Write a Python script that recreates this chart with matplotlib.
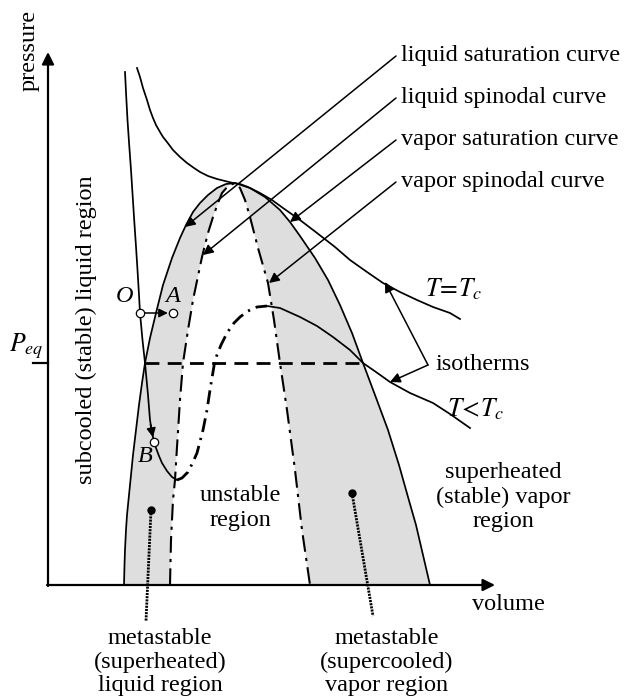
import matplotlib
matplotlib.use("Agg")
import matplotlib.pyplot as plt
import numpy as np

plt.rcParams['font.family'] = ['Liberation Serif', 'DejaVu Serif']
plt.rcParams['mathtext.fontset'] = 'stix'

# ---- curve data (schematic; x = volume-ish, y = pressure-ish in px) ----
dome_x = [124, 124.5, 125, 126, 127, 129, 131, 133, 136, 139, 142, 145, 150, 156, 163, 168, 172, 176, 180,
          186, 193, 200, 208, 217, 226, 235,
          250, 265, 280, 290, 300, 315, 328, 340, 352, 363, 375, 388, 399, 408, 416, 423, 430]
dome_y = [585, 565, 550, 530, 515, 495, 475, 455, 430, 405, 383, 363, 338, 313, 285, 270, 258, 248, 238,
          225, 212, 203, 195, 188, 184, 183,
          188, 197, 210, 222, 236, 258, 280, 305, 333, 363, 395, 430, 465, 497, 525, 555, 585]

spin_x = [170, 171, 173, 175, 177, 180, 183, 188, 193, 202, 208, 213, 218, 222, 228, 235,
          240, 245, 250, 258, 268, 274, 280, 287, 295, 302, 310]
spin_y = [585, 540, 500, 480, 447, 400, 363, 330, 300, 257, 233, 217, 203, 193, 186, 183,
          188, 200, 217, 248, 283, 320, 363, 410, 470, 530, 585]

tc_x = [137, 140, 143, 147, 150, 153, 156, 160, 163, 167, 170, 173, 180, 187, 194, 200, 208, 217, 225, 233,
        240, 248, 260, 272, 283, 300, 317, 335, 350, 367, 383, 400, 417, 433, 450, 460]
tc_y = [68, 77, 88, 100, 110, 118, 125, 132, 137, 142, 146, 150, 157, 163, 168, 172, 176, 179, 181, 183,
        184, 187, 193, 200, 208, 220, 233, 247, 260, 272, 283, 292, 300, 307, 313, 319]

iso_left_x = [125, 126.2, 127.5, 129.2, 131, 132.6, 134.2, 135.9, 137.5, 139, 140, 142.5, 145, 148, 150,
              152, 154, 156, 159, 162, 167, 172, 177]
iso_left_y = [72, 96, 120, 145, 170, 195, 220, 245, 270, 295, 313, 340, 363, 395, 420,
              432, 442, 448, 456, 463, 471, 477, 480]

iso_loop_x = [177, 182, 188, 193, 197, 203, 207, 210, 215, 221, 227, 234, 240, 248, 257, 267]
iso_loop_y = [480, 478, 472, 462, 453, 430, 410, 390, 360, 345, 333, 323, 317, 311, 307, 306]

iso_right_x = [267, 280, 300, 317, 333, 350, 363, 376, 390, 410, 433, 450, 470]
iso_right_y = [306, 308, 317, 326, 337, 350, 363, 372, 382, 393, 403, 414, 428]

p_eq_y = 363
p_eq_x = [145, 363]

curve_labels = ["liquid saturation curve", "liquid spinodal curve",
                "vapor saturation curve", "vapor spinodal curve"]
label_y = [56, 98, 140, 182]
label_targets = [(185, 227), (203, 255), (290, 222), (269, 283)]

fig = plt.figure(figsize=(6.24, 7.0), dpi=100)
ax = fig.add_axes([0, 0, 1, 1])
ax.set_xlim(0, 624)
ax.set_ylim(700, 0)
ax.axis('off')

FS = 17.5
LW = 1.25

# fills
ax.fill(dome_x, dome_y, color='#dedede', lw=0, zorder=1)
ax.fill(spin_x, spin_y, color='white', lw=0, zorder=2)

# dome
ax.plot(dome_x, dome_y, color='black', lw=LW, zorder=4)
# spinodal
ax.plot(spin_x, spin_y, color='black', lw=LW*1.2, ls=(0, (8, 3, 1.5, 3)), zorder=4)
# Tc isotherm
ax.plot(tc_x, tc_y, color='black', lw=LW, zorder=4)
# T<Tc isotherm
ax.plot(iso_left_x, iso_left_y, color='black', lw=LW, zorder=4)
ax.plot(iso_loop_x, iso_loop_y, color='black', lw=2.0, ls=(0, (5, 2.2, 0.8, 2.2)), zorder=4)
ax.plot(iso_right_x, iso_right_y, color='black', lw=LW, zorder=4)
# arrow along isotherm toward B
ax.annotate('', xy=(153.5, 440), xytext=(150, 422),
            arrowprops=dict(arrowstyle='-|>', color='black', lw=LW, mutation_scale=13), zorder=6)

# P_eq dashed line
ax.plot(p_eq_x, [p_eq_y, p_eq_y], color='black', lw=2.0, ls=(0, (5, 3)), zorder=5)

# axes
ax.annotate('', xy=(48, 52), xytext=(48, 586),
            arrowprops=dict(arrowstyle='-|>', color='black', lw=1.6, mutation_scale=18, shrinkA=0, shrinkB=0))
ax.annotate('', xy=(495, 585), xytext=(47, 585),
            arrowprops=dict(arrowstyle='-|>', color='black', lw=1.6, mutation_scale=18, shrinkA=0, shrinkB=0))
ax.plot([33, 48], [p_eq_y, p_eq_y], color='black', lw=1.6)

ax.text(29, 50, 'pressure', rotation=90, ha='center', va='center', fontsize=FS)
ax.text(508, 604, 'volume', ha='center', va='center', fontsize=FS)
ax.text(26, 346, r'$P_{eq}$', ha='center', va='center', fontsize=FS + 1)
ax.text(86, 330, 'subcooled (stable) liquid region', rotation=90, ha='center', va='center', fontsize=FS)

# curve labels with leader arrows
for lab, ly, tgt in zip(curve_labels, label_y, label_targets):
    ax.text(401, ly, lab, ha='left', va='center', fontsize=FS)
    ax.annotate('', xy=tgt, xytext=(396, ly),
                arrowprops=dict(arrowstyle='-|>', color='black', lw=1.1, mutation_scale=15,
                                shrinkA=0, shrinkB=0), zorder=7)

# isotherm labels
ax.text(454, 289, r'$T\!=\!T_{c}$', ha='center', va='center', fontsize=FS + 1)
ax.text(476, 409, r'$T\!<\!T_{c}$', ha='center', va='center', fontsize=FS + 1)
ax.text(436, 365, 'isotherms', ha='left', va='center', fontsize=FS)
ax.annotate('', xy=(385, 282), xytext=(428, 365),
            arrowprops=dict(arrowstyle='-|>', color='black', lw=1.1, mutation_scale=15, shrinkA=0, shrinkB=0), zorder=7)
ax.annotate('', xy=(390, 382), xytext=(428, 365),
            arrowprops=dict(arrowstyle='-|>', color='black', lw=1.1, mutation_scale=15, shrinkA=0, shrinkB=0), zorder=7)

# points O, A, B
ax.annotate('', xy=(172, 313), xytext=(140, 313),
            arrowprops=dict(arrowstyle='-|>', color='black', lw=1.1, mutation_scale=13, shrinkA=3, shrinkB=3), zorder=7)
for (px, py) in [(140, 313), (173, 313), (154, 442)]:
    ax.plot(px, py, 'o', ms=6, mfc='white', mec='black', mew=0.9, zorder=8)
ax.text(125, 297, 'O', ha='center', va='center', fontsize=FS, style='italic')
ax.text(173, 297, 'A', ha='center', va='center', fontsize=FS, style='italic')
ax.text(145, 456, 'B', ha='center', va='center', fontsize=FS, style='italic')

# region labels
ax.text(240, 508, 'unstable\nregion', ha='center', va='center', fontsize=FS, linespacing=1.22)
ax.text(503, 497, 'superheated\n(stable) vapor\nregion', ha='center', va='center', fontsize=FS, linespacing=1.2)
ax.text(160, 662, 'metastable\n(superheated)\nliquid region', ha='center', va='center', fontsize=FS, linespacing=1.13)
ax.text(387, 662, 'metastable\n(supercooled)\nvapor region', ha='center', va='center', fontsize=FS, linespacing=1.13)

# metastable leaders
ax.plot([151, 146], [510, 621], color='black', lw=2.0, ls=(0, (0.75, 0.4)), zorder=7)
ax.plot(151, 510, 'o', ms=5, color='black', zorder=8)
ax.plot([352, 373], [493, 616], color='black', lw=2.0, ls=(0, (0.75, 0.4)), zorder=7)
ax.plot(352, 493, 'o', ms=5, color='black', zorder=8)

fig.savefig('out.png', dpi=100)
